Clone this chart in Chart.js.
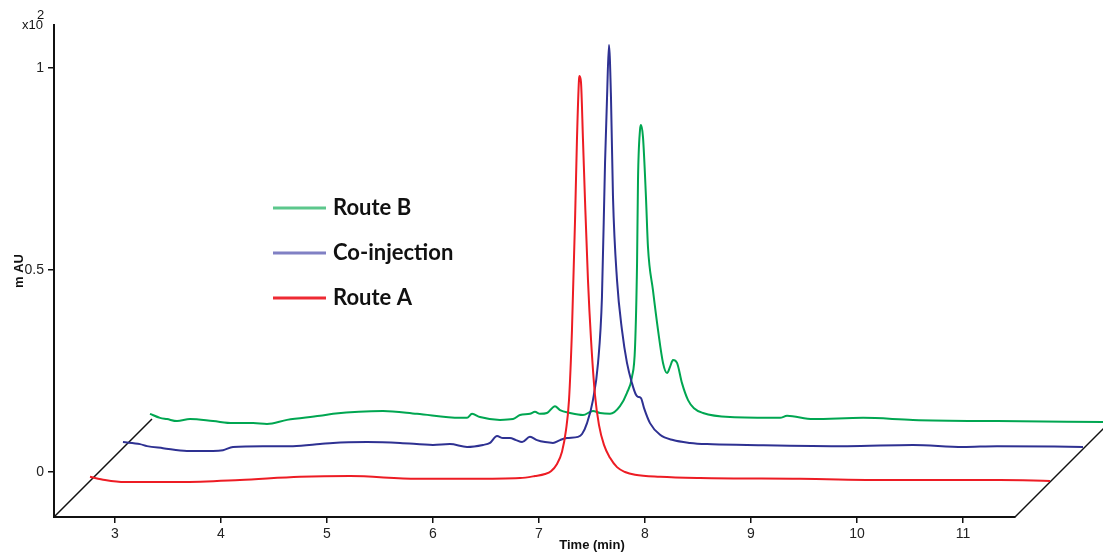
<!DOCTYPE html>
<html>
<head>
<meta charset="utf-8">
<title>HPLC overlay</title>
<script src="https://cdn.jsdelivr.net/npm/chart.js@4.4.1/dist/chart.umd.min.js"></script>
<style>
  html, body { margin: 0; padding: 0; background: #fff; }
  .wrap { width: 1103px; height: 553px; position: relative; }
</style>
</head>
<body>
<div class="wrap"><canvas id="chrom"></canvas></div>
<script>
// Retention time (min) and absorbance (mAU x10^2), stacked view: each trace already shifted back.
// Only one point per trace lies past the axis end, otherwise Chart.js skips the rest.
const routeATime = [2.764, 2.906, 3.094, 3.613, 4.179, 4.745, 5.217, 5.849, 6.349, 6.821, 6.962, 7.057, 7.113, 7.170, 7.217, 7.255, 7.283, 7.311, 7.340, 7.358, 7.377, 7.382, 7.396, 7.415, 7.434, 7.462, 7.491, 7.528, 7.566, 7.613, 7.670, 7.736, 7.811, 7.906, 8.142, 8.519, 9.462, 10.406, 11.349, 11.821];
const routeAAbs = [-0.012, -0.020, -0.025, -0.025, -0.020, -0.012, -0.010, -0.017, -0.017, -0.015, -0.010, -0.005, 0.002, 0.020, 0.050, 0.104, 0.178, 0.351, 0.624, 0.822, 0.970, 0.980, 0.965, 0.822, 0.673, 0.475, 0.327, 0.191, 0.116, 0.067, 0.035, 0.012, 0.000, -0.007, -0.012, -0.015, -0.017, -0.020, -0.020, -0.022];

const coinjTime = [3.075, 3.236, 3.302, 3.453, 3.679, 3.925, 4.019, 4.113, 4.396, 4.679, 4.934, 5.057, 5.377, 5.689, 6.000, 6.160, 6.321, 6.472, 6.538, 6.604, 6.660, 6.726, 6.783, 6.840, 6.915, 6.981, 7.057, 7.132, 7.198, 7.264, 7.368, 7.406, 7.453, 7.509, 7.557, 7.594, 7.623, 7.642, 7.660, 7.679, 7.698, 7.736, 7.783, 7.830, 7.877, 7.915, 7.934, 7.962, 7.991, 8.047, 8.142, 8.264, 8.425, 8.585, 8.962, 9.906, 10.528, 11.000, 11.321, 12.132];
const coinjAbs = [0.074, 0.069, 0.064, 0.059, 0.052, 0.052, 0.054, 0.062, 0.064, 0.064, 0.069, 0.072, 0.074, 0.072, 0.067, 0.069, 0.062, 0.067, 0.072, 0.089, 0.084, 0.084, 0.079, 0.074, 0.087, 0.079, 0.074, 0.072, 0.079, 0.084, 0.087, 0.094, 0.121, 0.178, 0.270, 0.433, 0.765, 0.928, 1.057, 0.928, 0.681, 0.475, 0.351, 0.270, 0.220, 0.191, 0.186, 0.183, 0.158, 0.121, 0.092, 0.079, 0.072, 0.069, 0.067, 0.064, 0.067, 0.062, 0.064, 0.062];

const routeBTime = [3.330, 3.425, 3.491, 3.585, 3.708, 3.925, 4.113, 4.302, 4.434, 4.623, 4.934, 5.057, 5.528, 5.849, 6.255, 6.321, 6.368, 6.443, 6.632, 6.755, 6.821, 6.915, 6.962, 7.009, 7.075, 7.151, 7.198, 7.292, 7.415, 7.509, 7.575, 7.670, 7.764, 7.830, 7.877, 7.906, 7.925, 7.934, 7.953, 7.962, 7.981, 8.009, 8.028, 8.075, 8.123, 8.170, 8.208, 8.236, 8.264, 8.302, 8.349, 8.406, 8.462, 8.547, 8.802, 9.274, 9.340, 9.585, 10.057, 10.528, 11.321, 12.321];
const routeBAbs = [0.144, 0.134, 0.131, 0.126, 0.131, 0.126, 0.121, 0.121, 0.119, 0.129, 0.139, 0.144, 0.151, 0.144, 0.134, 0.134, 0.144, 0.136, 0.129, 0.131, 0.141, 0.144, 0.149, 0.144, 0.146, 0.163, 0.153, 0.146, 0.141, 0.151, 0.146, 0.144, 0.163, 0.196, 0.235, 0.309, 0.517, 0.723, 0.847, 0.859, 0.829, 0.681, 0.557, 0.450, 0.351, 0.270, 0.245, 0.260, 0.277, 0.270, 0.220, 0.178, 0.158, 0.146, 0.136, 0.134, 0.139, 0.131, 0.134, 0.129, 0.126, 0.124];

// side edges of the stacking floor
const floorLeftTime = [2.4245, 3.349];
const floorLeftAbs = [-0.1114, 0.131];
const floorRightTime = [11.4906, 12.415];
const floorRightAbs = [-0.1114, 0.131];

const xTicks = [3, 4, 5, 6, 7, 8, 9, 10, 11];
const yTicks = [0, 0.5, 1];
const legendNames = ['Route B', 'Co-injection', 'Route A'];

const toPoints = (xs, ys) => xs.map((x, i) => ({x: x, y: ys[i]}));

const traceStyle = {
  pointRadius: 0,
  borderWidth: 2,
  fill: false,
  clip: false,
  cubicInterpolationMode: 'monotone'
};

const edgeStyle = {
  pointRadius: 0,
  borderWidth: 1.5,
  borderColor: '#111',
  fill: false,
  clip: false
};

// legend, axis titles and the x10^2 multiplier
const annotations = {
  id: 'annotations',
  afterDraw(chart) {
    const ctx = chart.ctx;
    ctx.save();
    ctx.fillStyle = '#111';

    ctx.font = '13px "Liberation Sans", Arial, sans-serif';
    ctx.textAlign = 'left';
    ctx.textBaseline = 'alphabetic';
    ctx.fillText('x10', 22, 29);
    ctx.fillText('2', 37, 19);

    ctx.font = 'bold 13px "Liberation Sans", Arial, sans-serif';
    ctx.textAlign = 'center';
    ctx.textBaseline = 'middle';
    ctx.fillText('Time (min)', 592, 545);
    ctx.save();
    ctx.translate(19, 271);
    ctx.rotate(-Math.PI / 2);
    ctx.fillText('m AU', 0, 0);
    ctx.restore();

    const swatch = ['#5cc78c', '#8080c4', '#ee2a33'];
    const rows = [208, 253, 298];
    ctx.font = 'bold 22px Lato, "Open Sans", sans-serif';
    ctx.textAlign = 'left';
    ctx.lineWidth = 3;
    legendNames.forEach((name, i) => {
      ctx.strokeStyle = swatch[i];
      ctx.beginPath();
      ctx.moveTo(273, rows[i]);
      ctx.lineTo(326, rows[i]);
      ctx.stroke();
      ctx.fillStyle = '#111';
      ctx.fillText(name, 333, rows[i]);
    });
    ctx.restore();
  }
};

new Chart(document.getElementById('chrom'), {
  type: 'line',
  data: {
    datasets: [
      Object.assign({label: 'Route A', data: toPoints(routeATime, routeAAbs), borderColor: '#ed1c24'}, traceStyle),
      Object.assign({label: 'Co-injection', data: toPoints(coinjTime, coinjAbs), borderColor: '#2e3192'}, traceStyle),
      Object.assign({label: 'Route B', data: toPoints(routeBTime, routeBAbs), borderColor: '#00a651'}, traceStyle),
      Object.assign({label: 'edge-left', data: toPoints(floorLeftTime, floorLeftAbs)}, edgeStyle),
      Object.assign({label: 'edge-right', data: toPoints(floorRightTime, floorRightAbs)}, edgeStyle)
    ]
  },
  options: {
    responsive: true,
    maintainAspectRatio: false,
    animation: false,
    layout: {padding: {top: 25, right: 88, left: 0, bottom: 0}},
    plugins: {
      legend: {display: false},
      tooltip: {enabled: false}
    },
    scales: {
      x: {
        type: 'linear',
        min: 2.4245,
        max: 11.4906,
        afterFit(scale) { scale.height = 36; },
        afterBuildTicks(scale) { scale.ticks = xTicks.map(v => ({value: v})); },
        grid: {display: true, drawOnChartArea: false, drawTicks: true, tickLength: 6, color: '#111', lineWidth: 1.5},
        border: {display: true, color: '#111', width: 2},
        ticks: {padding: 3, color: '#222', font: {family: '"Liberation Sans", Arial, sans-serif', size: 14}}
      },
      y: {
        type: 'linear',
        min: -0.1114,
        max: 1.1064,
        afterFit(scale) { scale.width = 54; },
        afterBuildTicks(scale) { scale.ticks = yTicks.map(v => ({value: v})); },
        grid: {display: true, drawOnChartArea: false, drawTicks: true, tickLength: 6, color: '#111', lineWidth: 1.5},
        border: {display: true, color: '#111', width: 2},
        ticks: {padding: 4, color: '#222', font: {family: '"Liberation Sans", Arial, sans-serif', size: 14},
          callback: v => String(v)}
      }
    }
  },
  plugins: [annotations]
});
</script>
</body>
</html>
